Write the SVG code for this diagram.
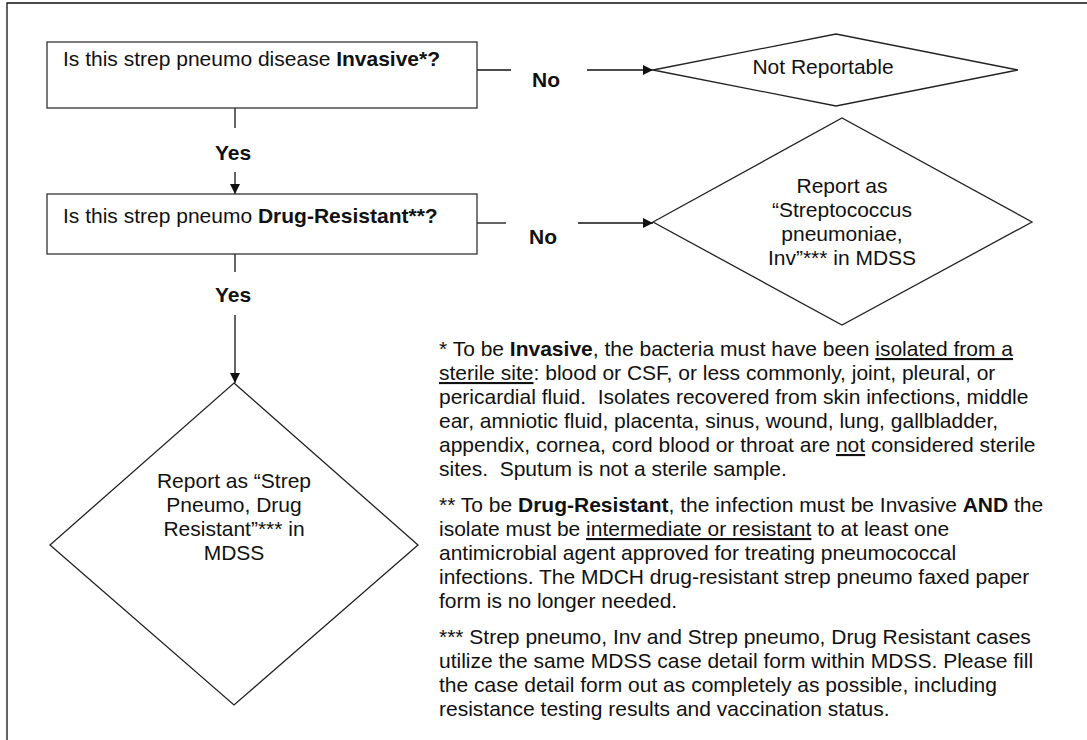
<svg xmlns="http://www.w3.org/2000/svg" width="1087" height="740" viewBox="0 0 1087 740">
<style>
text{font-family:"Liberation Sans",Arial,sans-serif;font-size:21px;fill:#111}
.b{font-weight:bold}
.u{text-decoration:underline}
.box{fill:#fff;stroke:#333;stroke-width:1.3}
.dia{fill:#fff;stroke:#222;stroke-width:1.3}
.ln{stroke:#111;stroke-width:1.3;fill:none}
.c{text-anchor:middle}
</style>
<defs>
<marker id="ah" viewBox="0 0 10 10" refX="10" refY="5" markerWidth="10" markerHeight="10" markerUnits="userSpaceOnUse" orient="auto">
<path d="M0,0 L10,5 L0,10 z" fill="#111"/>
</marker>
</defs>
<rect width="1087" height="740" fill="#fff"/>
<g id="frame"><path class="ln" d="M7,740 V3 H1087"/></g>
<g id="connectors">
<path class="ln" d="M477,70 H511"/>
<path class="ln" d="M587,70 H653" marker-end="url(#ah)"/>
<text class="b c" x="546" y="87">No</text>
<path class="ln" d="M235,108 V128"/>
<path class="ln" d="M235,172 V194" marker-end="url(#ah)"/>
<text class="b c" x="233" y="160">Yes</text>
<path class="ln" d="M477,223 H506"/>
<path class="ln" d="M578,223 H653" marker-end="url(#ah)"/>
<text class="b c" x="543" y="244">No</text>
<path class="ln" d="M235,254 V272"/>
<path class="ln" d="M235,315 V383" marker-end="url(#ah)"/>
<text class="b c" x="233" y="302">Yes</text>
</g>
<g id="q1">
<rect class="box" x="47" y="42" width="430" height="66"/>
<text x="63" y="66">Is this strep pneumo disease <tspan class="b">Invasive*?</tspan></text>
</g>
<g id="q2">
<rect class="box" x="47" y="194" width="430" height="60"/>
<text x="63" y="223">Is this strep pneumo <tspan class="b">Drug-Resistant**?</tspan></text>
</g>
<g id="notrep">
<polygon class="dia" points="653,70 836,34 1018,70 836,106"/>
<text class="c" x="823" y="74">Not Reportable</text>
</g>
<g id="repinv">
<polygon class="dia" points="653,222 842,118 1032,222 842,325"/>
<text class="c" x="842" y="193">Report as</text>
<text class="c" x="842" y="217">“Streptococcus</text>
<text class="c" x="842" y="241">pneumoniae,</text>
<text class="c" x="842" y="265">Inv”*** in MDSS</text>
</g>
<g id="repdr">
<polygon class="dia" points="234,383 418,545 234,705 50,545"/>
<text class="c" x="234" y="488">Report as “Strep</text>
<text class="c" x="234" y="512">Pneumo, Drug</text>
<text class="c" x="234" y="536">Resistant”*** in</text>
<text class="c" x="234" y="560">MDSS</text>
</g>
<g id="notes">
<text x="439" y="356">* To be <tspan class="b">Invasive</tspan>, the bacteria must have been <tspan class="u">isolated from a</tspan></text>
<text x="439" y="380"><tspan class="u">sterile site</tspan>: blood or CSF, or less commonly, joint, pleural, or</text>
<text x="439" y="404">pericardial fluid.&#160; Isolates recovered from skin infections, middle</text>
<text x="439" y="428">ear, amniotic fluid, placenta, sinus, wound, lung, gallbladder,</text>
<text x="439" y="452">appendix, cornea, cord blood or throat are <tspan class="u">not</tspan> considered sterile</text>
<text x="439" y="476">sites.&#160; Sputum is not a sterile sample.</text>
<text x="439" y="512">** To be <tspan class="b">Drug-Resistant</tspan>, the infection must be Invasive <tspan class="b">AND</tspan> the</text>
<text x="439" y="536">isolate must be <tspan class="u">intermediate or resistant</tspan> to at least one</text>
<text x="439" y="560">antimicrobial agent approved for treating pneumococcal</text>
<text x="439" y="584">infections. The MDCH drug-resistant strep pneumo faxed paper</text>
<text x="439" y="608">form is no longer needed.</text>
<text x="439" y="644">*** Strep pneumo, Inv and Strep pneumo, Drug Resistant cases</text>
<text x="439" y="668">utilize the same MDSS case detail form within MDSS. Please fill</text>
<text x="439" y="692">the case detail form out as completely as possible, including</text>
<text x="439" y="716">resistance testing results and vaccination status.</text>
</g>
</svg>
